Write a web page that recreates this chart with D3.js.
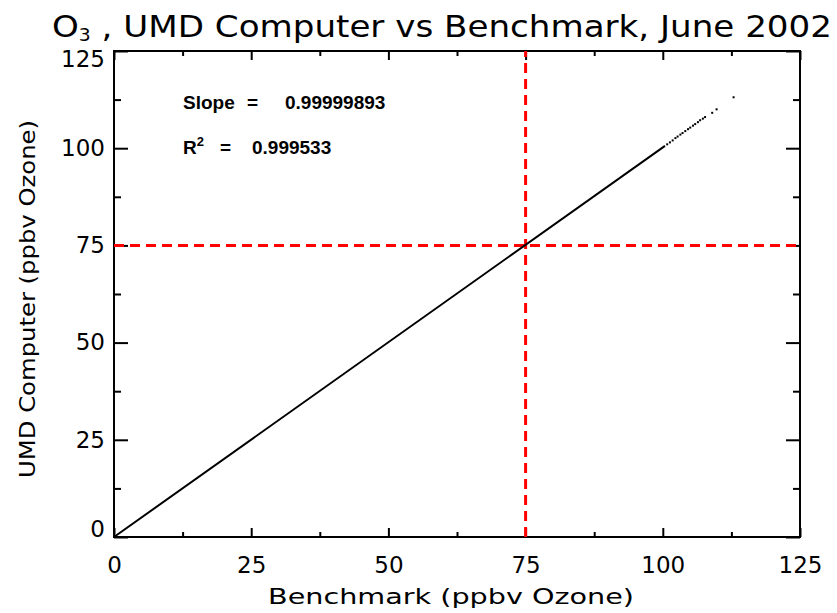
<!DOCTYPE html>
<html>
<head>
<meta charset="utf-8">
<script src="https://cdn.jsdelivr.net/npm/d3@7"></script>
<style>
  body { margin: 0; background: #fff; }
  svg { display: block; }
  text { font-family: "DejaVu Sans", sans-serif; fill: #000; }
</style>
</head>
<body>
<svg id="chart" width="837" height="613"></svg>
<script>
// axis ticks
const majorTicks = [0, 25, 50, 75, 100, 125];
const minorTicks = [12.5, 37.5, 62.5, 87.5, 112.5];

// the dense part of the scatter, drawn as one line
const lineBenchmark = [0, 100.4];
const lineComputer = [0, 100.6];

// sparse points at the top end
const dotBenchmark = [100.8, 101.3, 101.8, 102.3, 102.7, 103.2, 103.6, 104.1, 104.6, 105.0, 105.5, 105.9, 106.4, 106.8, 107.3, 107.7, 109.0, 109.8, 112.9];
const dotComputer  = [101.0, 101.5, 102.0, 102.6, 103.0, 103.5, 103.9, 104.4, 104.9, 105.3, 105.8, 106.2, 106.7, 107.2, 107.6, 108.0, 109.1, 110.0, 113.1];

const refValue = 75;
const slopeText = "0.99999893";
const r2Text = "0.999533";

const svg = d3.select("#chart"),
  margin = {top: 51, right: 37, bottom: 76, left: 114},
  width = +svg.attr("width") - margin.left - margin.right,
  height = +svg.attr("height") - margin.top - margin.bottom,
  g = svg.append("g").attr("transform", "translate(" + margin.left + "," + margin.top + ")");

const x = d3.scaleLinear().domain([0, 125]).range([0, width]);
const y = d3.scaleLinear().domain([0, 125]).range([height, 0]);

function styleAxis(sel) {
  sel.select(".domain").remove();
  sel.selectAll("line").attr("stroke", "#000").attr("stroke-width", 2);
  sel.selectAll("text").attr("font-family", "DejaVu Sans").attr("font-size", 23).attr("fill", "#000");
}

// bottom
g.append("g")
  .attr("transform", "translate(0," + height + ")")
  .call(d3.axisBottom(x).tickValues(majorTicks).tickSize(-9).tickPadding(20).tickFormat(d3.format("d")))
  .call(styleAxis);
g.append("g")
  .attr("transform", "translate(0," + height + ")")
  .call(d3.axisBottom(x).tickValues(minorTicks).tickSize(-5).tickFormat(""))
  .call(styleAxis);
// top
g.append("g")
  .call(d3.axisTop(x).tickValues(majorTicks).tickSize(-9).tickFormat(""))
  .call(styleAxis);
g.append("g")
  .call(d3.axisTop(x).tickValues(minorTicks).tickSize(-5).tickFormat(""))
  .call(styleAxis);
// left
const yAxis = g.append("g")
  .call(d3.axisLeft(y).tickValues(majorTicks).tickSize(-14).tickPadding(9).tickFormat(d3.format("d")))
  .call(styleAxis);
yAxis.selectAll("text")
  .attr("y", d => d === 125 ? 8.5 : d === 0 ? -7.5 : 0);
g.append("g")
  .call(d3.axisLeft(y).tickValues(minorTicks).tickSize(-7).tickFormat(""))
  .call(styleAxis);
// right
g.append("g")
  .attr("transform", "translate(" + width + ",0)")
  .call(d3.axisRight(y).tickValues(majorTicks).tickSize(-14).tickFormat(""))
  .call(styleAxis);
g.append("g")
  .attr("transform", "translate(" + width + ",0)")
  .call(d3.axisRight(y).tickValues(minorTicks).tickSize(-7).tickFormat(""))
  .call(styleAxis);

// frame
g.append("rect")
  .attr("width", width)
  .attr("height", height)
  .attr("fill", "none")
  .attr("stroke", "#000")
  .attr("stroke-width", 2);

// reference lines
g.append("line")
  .attr("x1", x(refValue)).attr("x2", x(refValue))
  .attr("y1", y(0)).attr("y2", y(125))
  .attr("stroke", "#ff0000").attr("stroke-width", 3).attr("stroke-dasharray", "10,6");
g.append("line")
  .attr("x1", x(0)).attr("x2", x(125))
  .attr("y1", y(refValue)).attr("y2", y(refValue))
  .attr("stroke", "#ff0000").attr("stroke-width", 3).attr("stroke-dasharray", "10,6");

// data
const line = d3.line()
  .x(d => x(d[0]))
  .y(d => y(d[1]));

g.append("path")
  .datum(d3.zip(lineBenchmark, lineComputer))
  .attr("fill", "none")
  .attr("stroke", "#000")
  .attr("stroke-width", 2)
  .attr("d", line);

g.selectAll(".dot")
  .data(d3.zip(dotBenchmark, dotComputer))
  .join("rect")
  .attr("class", "dot")
  .attr("x", d => x(d[0]) - 1)
  .attr("y", d => y(d[1]) - 1)
  .attr("width", 2)
  .attr("height", 2)
  .attr("fill", "#000");

// fit statistics
const stats = svg.append("g")
  .attr("font-weight", "bold")
  .attr("font-size", 19);
stats.append("text").attr("x", 183).attr("y", 109).style("font-family", "Liberation Sans").text("Slope");
stats.append("text").attr("x", 247).attr("y", 109).style("font-family", "Liberation Sans").text("=");
stats.append("text").attr("x", 285).attr("y", 109).style("font-family", "Liberation Sans").text(slopeText);
const r2 = stats.append("text").attr("x", 183).attr("y", 154).style("font-family", "Liberation Sans");
r2.append("tspan").text("R");
r2.append("tspan").attr("font-size", 13).attr("dy", -8).text("2");
stats.append("text").attr("x", 220).attr("y", 154).style("font-family", "Liberation Sans").text("=");
stats.append("text").attr("x", 252).attr("y", 154).style("font-family", "Liberation Sans").text(r2Text);

// title
const title = svg.append("text")
  .attr("x", 52)
  .attr("y", 37)
  .attr("font-size", 31)
  .attr("textLength", 780)
  .attr("lengthAdjust", "spacingAndGlyphs");
title.append("tspan").text("O");
title.append("tspan").attr("font-size", 17).attr("dy", 4).text("3");
title.append("tspan").attr("dy", -4).text(" , UMD Computer vs Benchmark, June 2002");

// axis titles
svg.append("text")
  .attr("x", 268)
  .attr("y", 604)
  .attr("font-size", 22)
  .attr("textLength", 366)
  .attr("lengthAdjust", "spacingAndGlyphs")
  .text("Benchmark (ppbv Ozone)");

svg.append("text")
  .attr("transform", "translate(35,478) rotate(-90)")
  .attr("font-size", 22)
  .attr("textLength", 358)
  .attr("lengthAdjust", "spacingAndGlyphs")
  .text("UMD Computer (ppbv Ozone)");
</script>
</body>
</html>
